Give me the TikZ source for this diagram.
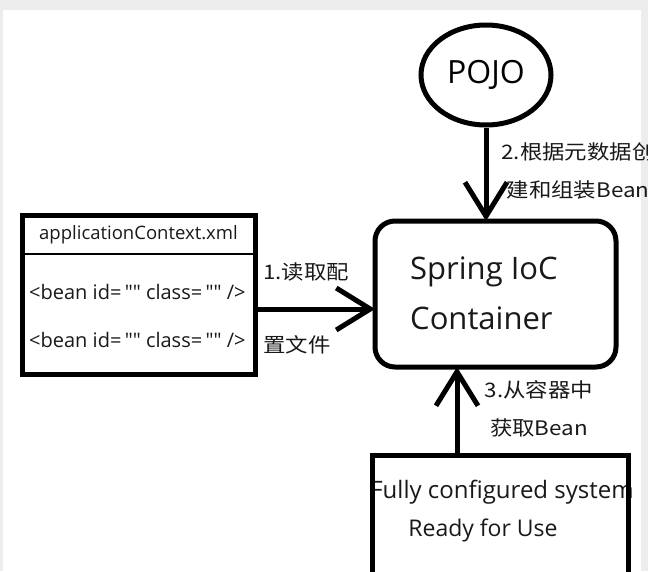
\documentclass[tikz,border=0pt]{standalone}
\usepackage{fontspec}
\setmainfont{Open Sans}
\newfontfamily\plainos{Open Sans}[Ligatures=TeXOff]
\newfontfamily\cjk{Noto Sans CJK SC}[FakeStretch=1.12]
\usetikzlibrary{arrows.meta,shapes.geometric}
\begin{document}
\begin{tikzpicture}[x=1pt,y=-1pt,
  box/.style={draw, line width=5pt, outer sep=0pt},
  arr/.style={line width=5pt, -{Straight Barb[length=34pt,width=42pt]}},
  lbl/.style={font=\cjk\fontsize{20}{38}\selectfont, inner sep=0pt, text=black!90},
  txt/.style={inner sep=0pt, text=black!90},
]
\useasboundingbox (0,0) rectangle (648,571);
\clip (0,0) rectangle (648,571);
\fill[black!7] (0,0) rectangle (648,571);
\fill[white] (3,10) rectangle (641,571);

% POJO
\node[ellipse, draw, line width=5pt, minimum width=130pt, minimum height=100pt,
      font=\fontsize{32}{36}\selectfont] (pojo) at (486,75) {POJO};

% Spring IoC container
\node[txt, anchor=west, align=left, font=\fontsize{31}{50}\selectfont] (ioctext) at (410,293) {Spring IoC\\Container};
\node[box, rounded corners=20pt, minimum width=241pt, minimum height=146pt] (ioc) at (495.5,294) {};

% applicationContext.xml
\node[txt, font=\fontsize{18.5}{20}\selectfont] (hdr) at (138.5,235) {applicationContext.xml};
\node[txt, anchor=west, font=\plainos\fontsize{20}{22}\selectfont] (b1) at (29,292) {<bean id=\,"" class=\,"" />};
\node[txt, anchor=west, font=\plainos\fontsize{20}{22}\selectfont] (b2) at (29,340) {<bean id=\,"" class=\,"" />};
\node[box, minimum width=233pt, minimum height=159pt] (xml) at (138.5,294.5) {};
\coordinate (sepy) at (0,254);
\draw[line width=2pt] (xml.west |- sepy) -- (xml.east |- sepy);

% Fully configured system
\node[txt, font=\fontsize{24}{28}\selectfont] (sys1) at (502,492) {Fully configured system};
\node[txt, font=\fontsize{23}{28}\selectfont] (sys2) at (483,530) {Ready for Use};
\node[box, anchor=north west, minimum width=256pt, minimum height=170pt] (sys) at (372,455) {};

% arrows
\coordinate (a1) at (0,309);
\draw[arr] (xml.east |- a1) -- (ioc.west |- a1);
\draw[arr] (pojo.south) -- (pojo.south |- ioc.north);
\coordinate (a3) at (457,0);
\draw[arr] (sys.north -| a3) -- (ioc.south -| a3);

% labels
\node[lbl, anchor=west] (l1a) at (263,272) {1.读取配};
\node[lbl, anchor=west] (l1b) at (263,345) {置文件};
\node[lbl, align=center] (l2) at (578,171) {2.根据元数据创\\建和组装Bean};
\node[lbl, align=center] (l3) at (539,409) {3.从容器中\\获取Bean};
\end{tikzpicture}
\end{document}
